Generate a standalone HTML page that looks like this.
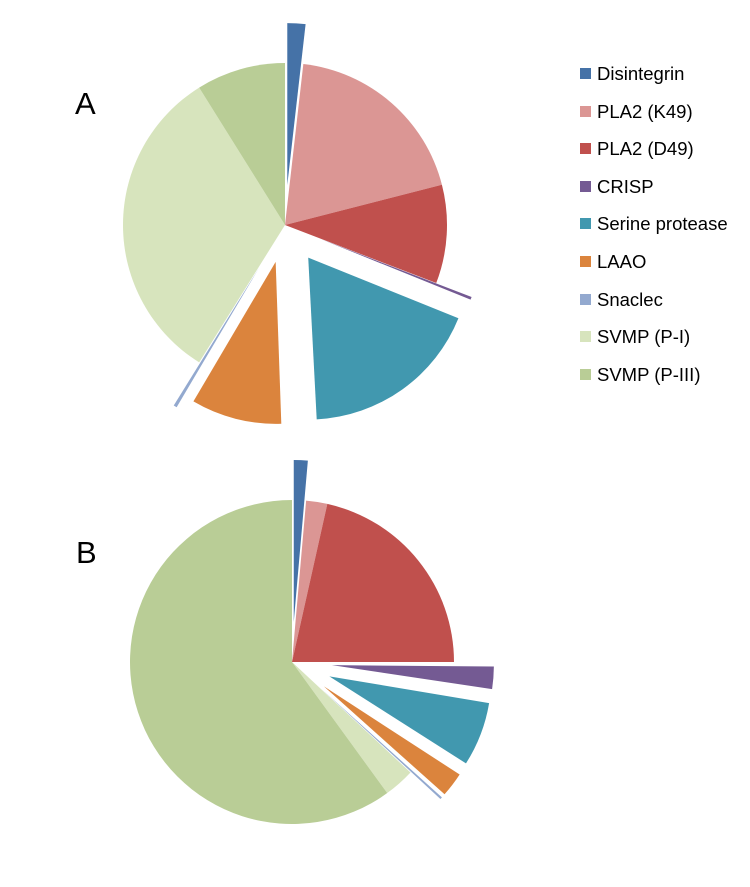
<!DOCTYPE html>
<html><head><style>
body{margin:0;background:#fff;}
svg{display:block;font-family:"Liberation Sans",sans-serif;}
</style></head><body>
<svg id="s" width="750" height="887" xmlns="http://www.w3.org/2000/svg">
<text x="75" y="114" font-size="31">A</text>
<text x="76" y="563" font-size="31">B</text>
<g font-size="18.5" fill="#000">
<rect x="580" y="68" width="11" height="11" fill="#4572a7"/><text x="597" y="80">Disintegrin</text>
<rect x="580" y="106" width="11" height="11" fill="#db9694"/><text x="597" y="118">PLA2 (K49)</text>
<rect x="580" y="143" width="11" height="11" fill="#c0504d"/><text x="597" y="155">PLA2 (D49)</text>
<rect x="580" y="181" width="11" height="11" fill="#745a93"/><text x="597" y="193">CRISP</text>
<rect x="580" y="218" width="11" height="11" fill="#4198af"/><text x="597" y="230">Serine protease</text>
<rect x="580" y="256" width="11" height="11" fill="#db843d"/><text x="597" y="268">LAAO</text>
<rect x="580" y="294" width="11" height="11" fill="#93a9cf"/><text x="597" y="306">Snaclec</text>
<rect x="580" y="331" width="11" height="11" fill="#d7e4bd"/><text x="597" y="343">SVMP (P-I)</text>
<rect x="580" y="369" width="11" height="11" fill="#b9cd96"/><text x="597" y="381">SVMP (P-III)</text>
</g>
</svg>
<script>
var s=document.getElementById('s');
function pie(cx,cy,r,sl){
 sl.forEach(function(t){
  var a0=t[0]*Math.PI/180,a1=t[1]*Math.PI/180,m=(a0+a1)/2,o=t[3];
  var x=cx+o*Math.sin(m),y=cy-o*Math.cos(m);
  var p='M'+x+' '+y+'L'+(x+r*Math.sin(a0))+' '+(y-r*Math.cos(a0))+'A'+r+' '+r+' 0 '+((t[1]-t[0])>180?1:0)+' 1 '+(x+r*Math.sin(a1))+' '+(y-r*Math.cos(a1))+'Z';
  var e=document.createElementNS('http://www.w3.org/2000/svg','path');
  e.setAttribute('d',p);e.setAttribute('fill',t[2]);
  s.appendChild(e);
 });
}
pie(285,225,162,[
[0,6.5,'#4572a7',40],[6.5,75.6,'#db9694',0],[75.6,111,'#c0504d',0],[111,112,'#745a93',38],
[112,177,'#4198af',40],[178,210.5,'#db843d',38],[210.6,211.8,'#93a9cf',50],
[212,328,'#d7e4bd',0],[328,360,'#b9cd96',0]]);
pie(292,662,162,[
[0,5,'#4572a7',40],[5,12.6,'#db9694',0],[12.6,90,'#c0504d',0],[90.5,98.5,'#745a93',40],
[99.5,122.5,'#4198af',40],[123,131.8,'#db843d',40],[132,132.8,'#93a9cf',40],
[133,144,'#d7e4bd',0],[144,360,'#b9cd96',0]]);
</script>
</body></html>
